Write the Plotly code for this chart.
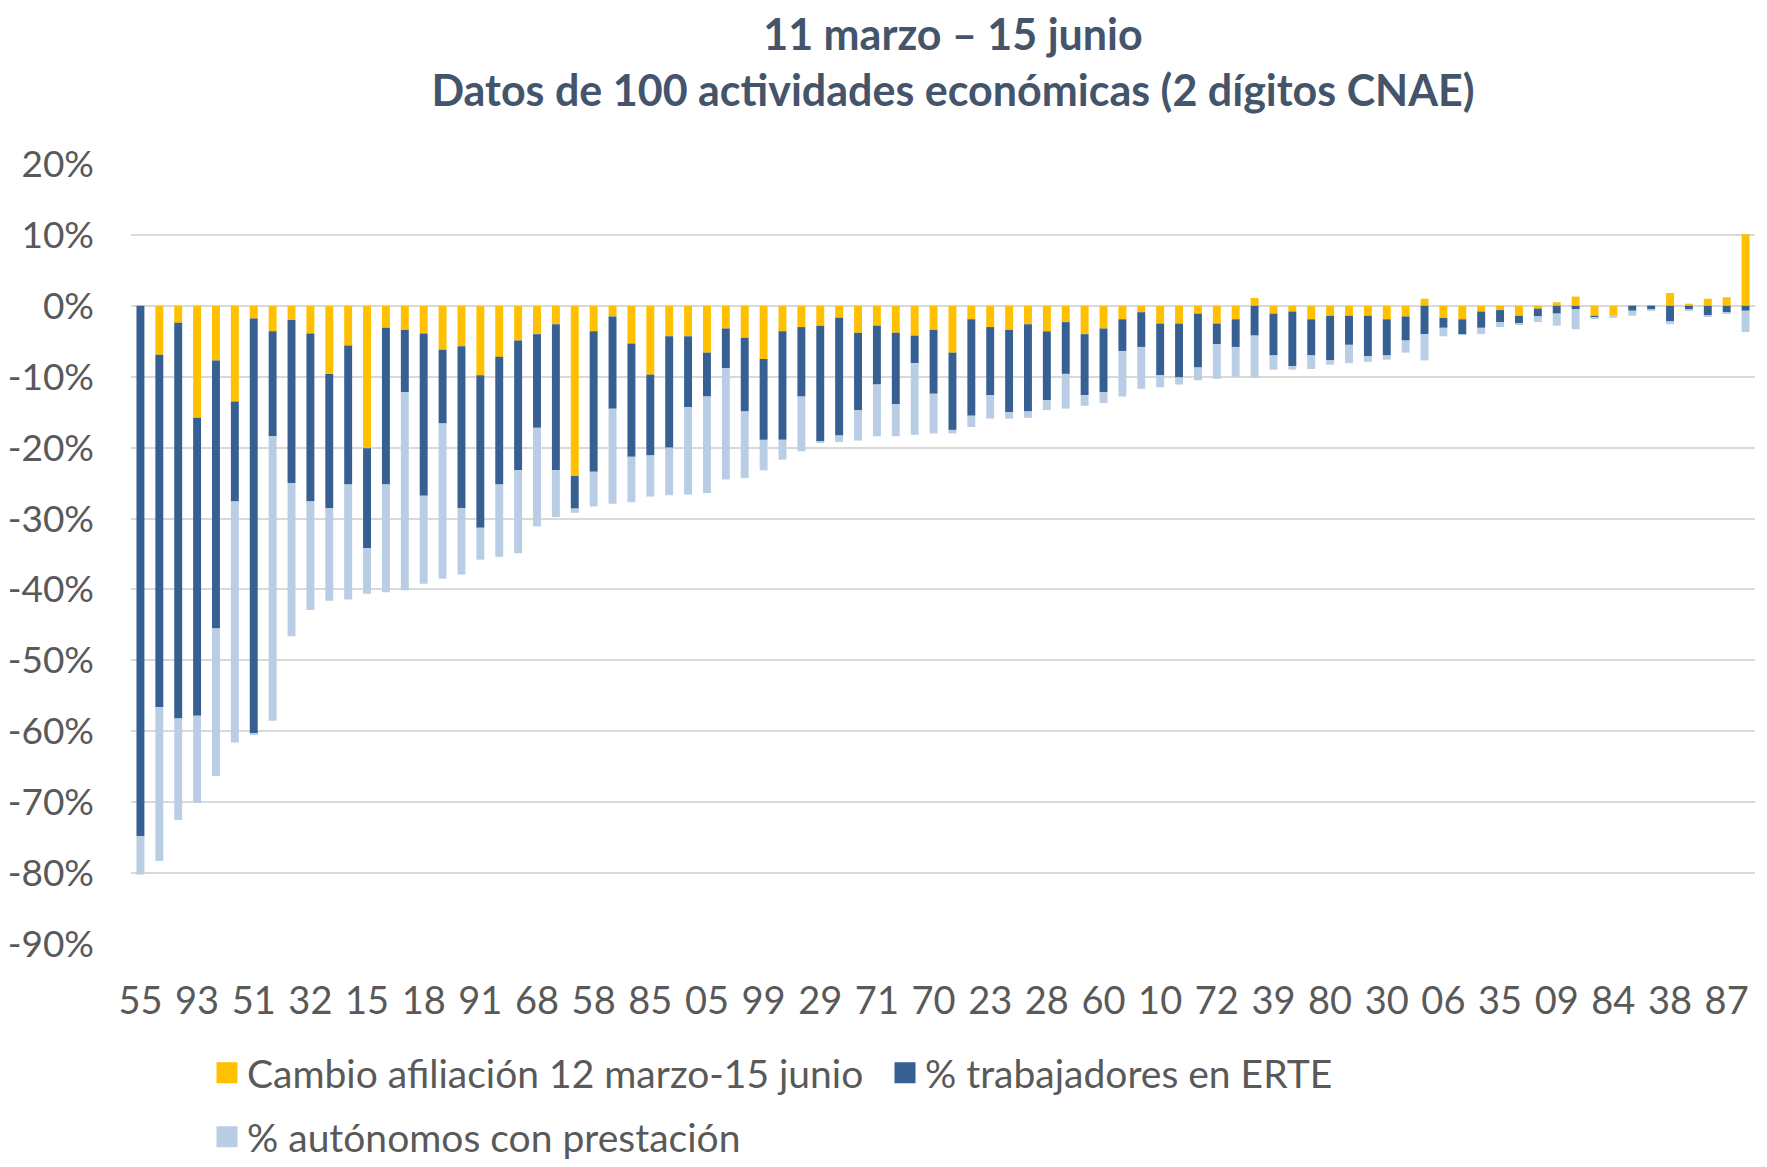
import plotly.graph_objects as go

# Values (percent), one per economic activity, in display order
cambio_afiliacion = [0, -6.9, -2.4, -15.8, -7.7, -13.5, -1.8, -3.6, -2.0, -3.9,
                     -9.6, -5.6, -20.1, -3.1, -3.4, -3.9, -6.2, -5.7, -9.8, -7.2,
                     -4.9, -4.0, -2.6, -24.0, -3.6, -1.5, -5.3, -9.7, -4.3, -4.3,
                     -6.6, -3.2, -4.5, -7.5, -3.6, -3.0, -2.8, -1.7, -3.8, -2.8,
                     -3.8, -4.2, -3.4, -6.6, -1.9, -3.0, -3.4, -2.6, -3.6, -2.3,
                     -4.0, -3.2, -1.9, -0.9, -2.5, -2.5, -1.1, -2.5, -1.9, 1.1,
                     -1.1, -0.8, -1.9, -1.4, -1.4, -1.4, -1.9, -1.5, 1.0, -1.7,
                     -1.9, -0.8, -0.6, -1.4, -0.4, 0.5, 1.3, -1.4, -1.4, 0.1,
                     0.1, 1.8, 0.3, 1.0, 1.2, 10.1]
trabajadores_erte = [-74.8, -49.7, -55.8, -42.0, -37.8, -14.1, -58.5, -14.8, -23.0, -23.7,
                     -18.9, -19.6, -14.1, -22.1, -8.8, -22.9, -10.4, -22.8, -21.5, -18.0,
                     -18.3, -13.2, -20.6, -4.6, -19.8, -13.0, -16.0, -11.4, -15.7, -10.0,
                     -6.2, -5.6, -10.4, -11.4, -15.3, -9.8, -16.3, -16.6, -10.9, -8.3,
                     -10.1, -3.9, -9.0, -10.9, -13.6, -9.6, -11.6, -12.3, -9.7, -7.3,
                     -8.6, -9.0, -4.5, -4.9, -7.3, -7.6, -7.6, -2.9, -3.9, -4.2,
                     -5.9, -7.7, -5.1, -6.3, -4.1, -5.7, -5.1, -3.4, -4.0, -1.4,
                     -2.1, -2.3, -1.7, -1.1, -1.1, -1.1, -0.5, -0.3, 0.0, -0.7,
                     -0.5, -2.2, -0.5, -1.3, -1.0, -0.7]
autonomos_prestacion = [-5.4, -21.7, -14.3, -12.3, -20.8, -34.0, -0.2, -40.1, -21.6, -15.3,
                        -13.1, -16.2, -6.4, -15.2, -27.9, -12.4, -21.9, -9.4, -4.5, -10.2,
                        -11.7, -13.9, -6.6, -0.6, -4.9, -13.4, -6.4, -5.8, -6.7, -12.3,
                        -13.6, -15.7, -9.4, -4.3, -2.8, -7.7, -0.2, -0.9, -4.3, -7.3,
                        -4.5, -10.1, -5.6, -0.5, -1.6, -3.3, -0.9, -0.9, -1.4, -4.9,
                        -1.5, -1.5, -6.4, -5.9, -1.7, -1.0, -1.8, -4.9, -4.2, -5.9,
                        -2.0, -0.5, -1.9, -0.6, -2.6, -0.8, -0.6, -1.7, -3.7, -1.2,
                        -0.1, -0.9, -0.7, -0.1, -0.8, -1.7, -2.8, -0.1, -0.3, -0.7,
                        -0.2, -0.4, -0.2, -0.2, -0.1, -3.0]

# Tick labels (CNAE 2-digit codes shown on every third bar)
tick_labels = ["55", "93", "51", "32", "15", "18", "91", "68", "58", "85", "05", "99",
               "29", "71", "70", "23", "28", "60", "10", "72", "39", "80", "30", "06",
               "35", "09", "84", "38", "87"]
y_ticks = [20, 10, 0, -10, -20, -30, -40, -50, -60, -70, -80, -90]

series_names = ["Cambio afiliación 12 marzo-15 junio", "% trabajadores en ERTE",
                "% autónomos con prestación"]
colors = ["#FFC000", "#376092", "#B9CDE5"]

n = len(cambio_afiliacion)
x = list(range(n))
tick_pos = list(range(0, n, 3))[:len(tick_labels)]

# the page body adds an 8px margin around the figure
W, H = 1751, 1151
FONT = "Lato"
fig = go.Figure()
for vals, name, col in zip(
        [cambio_afiliacion, trabajadores_erte, autonomos_prestacion],
        series_names, colors):
    fig.add_trace(go.Bar(x=x, y=vals, name=name, marker=dict(color=col, line=dict(width=0)),
                         showlegend=False))

# legend entries (square swatches)
for name, col, leg in zip(series_names, colors, ["legend", "legend", "legend2"]):
    fig.add_trace(go.Scatter(x=[None], y=[None], mode="markers", name=name,
                             marker=dict(symbol="square", size=16, color=col,
                                         line=dict(color=col, width=5)),
                             legend=leg, showlegend=True, hoverinfo="skip"))

fig.update_layout(
    width=W, height=H,
    barmode="relative", bargap=0.58,
    plot_bgcolor="white", paper_bgcolor="white",
    margin=dict(l=123, r=4, t=156, b=215),
    font=dict(family=FONT, size=38, color="#595959"),
    title=dict(
        text="<b>11 marzo – 15 junio<br>Datos de 100 actividades económicas (2 dígitos CNAE)</b>",
        font=dict(family=FONT, size=43, color="#44546A"),
        x=945 / W, xanchor="center", xref="container",
        y=1 - 42 / H, yanchor="middle", yref="container"),
    xaxis=dict(range=[-0.5, n - 0.5], tickvals=tick_pos, ticktext=tick_labels,
               showgrid=False, zeroline=False, showline=False, automargin=False,
               ticks="", ticklabelstandoff=31, tickfont=dict(size=38, color="#595959")),
    yaxis=dict(range=[-90, 20], tickvals=y_ticks, ticktext=[f"{v}%" for v in y_ticks],
               showgrid=True, gridcolor="#D9D9D9", gridwidth=2,
               zeroline=True, zerolinecolor="#D9D9D9", zerolinewidth=2,
               showline=False, ticks="", ticklabelstandoff=36, automargin=False,
               tickfont=dict(size=37, color="#595959")),
    legend=dict(orientation="h", xref="container", yref="container",
                x=199 / W, xanchor="left", y=1 - 1065 / H, yanchor="middle",
                entrywidth=633, entrywidthmode="pixels", itemsizing="trace",
                font=dict(family=FONT, size=39, color="#595959"), traceorder="normal"),
    legend2=dict(orientation="h", xref="container", yref="container",
                 x=199 / W, xanchor="left", y=1 - 1129 / H, yanchor="middle",
                 itemsizing="trace",
                 font=dict(family=FONT, size=39, color="#595959")),
    showlegend=True,
)

fig.write_html("out.html")
